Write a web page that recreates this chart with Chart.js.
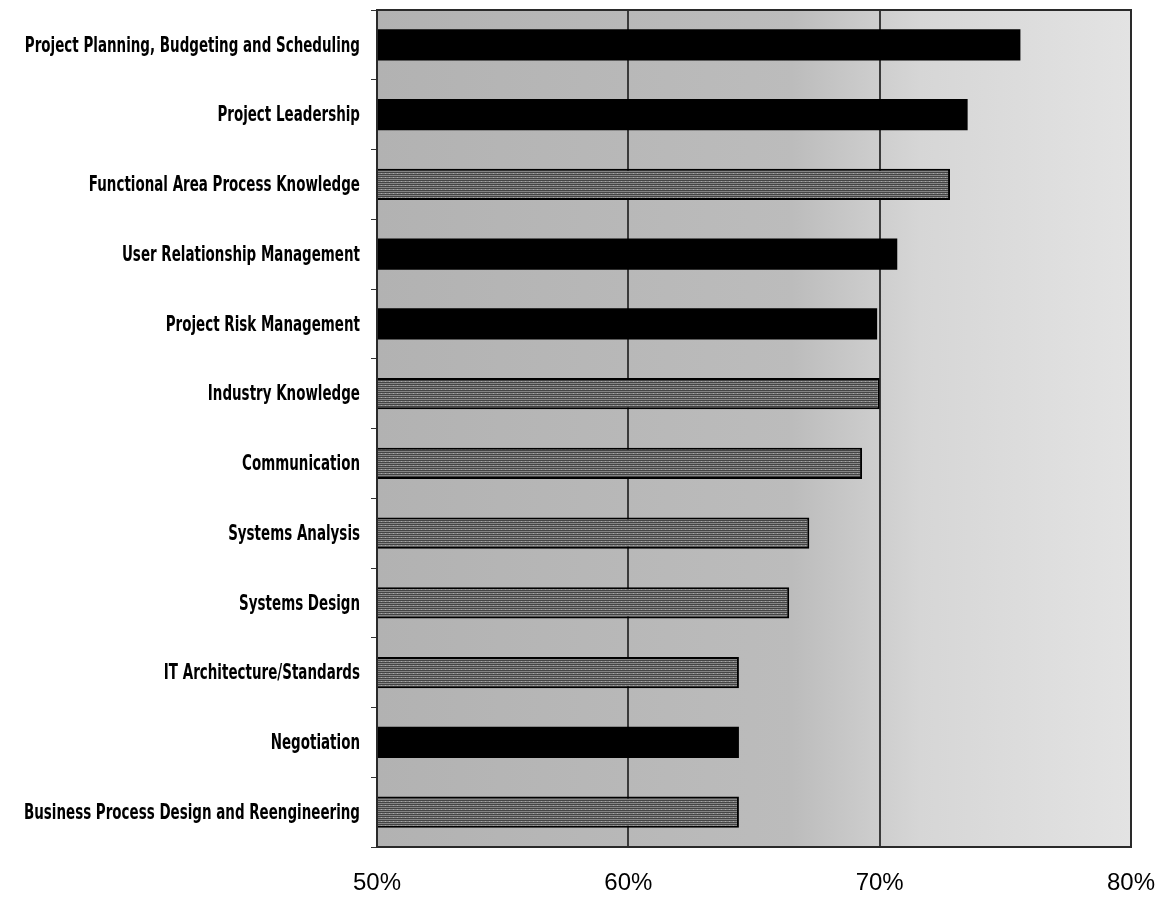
<!DOCTYPE html>
<html>
<head>
<meta charset="utf-8">
<script src="https://cdn.jsdelivr.net/npm/chart.js@4/dist/chart.umd.min.js"></script>
<style>
  html, body { margin: 0; padding: 0; background: #ffffff; }
  #wrap { width: 1165px; height: 898px; }
</style>
</head>
<body>
<div id="wrap"><canvas id="c" width="1165" height="898"></canvas></div>
<script>
// Skill areas, top to bottom
const skills = [
  'Project Planning, Budgeting and Scheduling',
  'Project Leadership',
  'Functional Area Process Knowledge',
  'User Relationship Management',
  'Project Risk Management',
  'Industry Knowledge',
  'Communication',
  'Systems Analysis',
  'Systems Design',
  'IT Architecture/Standards',
  'Negotiation',
  'Business Process Design and Reengineering'
];

// Share of respondents (%) — project-management skills (solid bars)
const projectSkills = [75.6, 73.5, null, 70.7, 69.9, null, null, null, null, null, 64.4, null];

// Share of respondents (%) — business / technical skills (hatched bars)
const otherSkills = [null, null, 72.8, null, null, 70.0, 69.3, 67.2, 66.4, 64.4, null, 64.4];

// Value axis range and tick step
const axisMin = 50;
const axisMax = 80;
const axisStep = 10;

// horizontal-line texture for the hatched bars
function stripePattern() {
  const p = document.createElement('canvas');
  p.width = 4; p.height = 4;
  const g = p.getContext('2d');
  g.fillStyle = '#858585'; g.fillRect(0, 0, 4, 4);
  g.fillStyle = '#444444'; g.fillRect(0, 0, 4, 1); g.fillRect(0, 2, 4, 1);
  g.fillStyle = '#a8a8a8'; g.fillRect(1, 1, 1, 1);
  return g.createPattern(p, 'repeat');
}

const ctx = document.getElementById('c').getContext('2d');

// shaded plot background and closed frame
const plotFrame = {
  id: 'plotFrame',
  beforeDraw(chart) {
    const a = chart.chartArea, c = chart.ctx;
    const grad = c.createLinearGradient(a.left, 0, a.right, 0);
    grad.addColorStop(0, '#b2b2b2');
    grad.addColorStop(0.55, '#bcbcbc');
    grad.addColorStop(0.72, '#d6d6d6');
    grad.addColorStop(1, '#e3e3e3');
    c.save();
    c.fillStyle = grad;
    c.fillRect(a.left, a.top, a.right - a.left, a.bottom - a.top);
    c.restore();
  },
  afterDraw(chart) {
    const a = chart.chartArea, c = chart.ctx;
    c.save();
    c.strokeStyle = '#2a2a2a';
    c.lineWidth = 2;
    c.strokeRect(a.left, a.top, a.right - a.left, a.bottom - a.top);
    c.restore();
  }
};

// narrow, tall category labels placed at the category axis ticks
const narrowLabels = {
  id: 'narrowLabels',
  afterDraw(chart) {
    const y = chart.scales.y, c = chart.ctx;
    const right = chart.chartArea.left - 17;
    c.save();
    c.font = 'bold 22px "DejaVu Sans Condensed", "DejaVu Sans", sans-serif';
    c.fillStyle = '#000000';
    c.textAlign = 'right';
    c.textBaseline = 'middle';
    chart.data.labels.forEach((label, i) => {
      c.save();
      c.translate(right, y.getPixelForTick(i) + 1);
      c.scale(0.68, 1);
      c.fillText(label, 0, 0);
      c.restore();
    });
    c.restore();
  }
};

new Chart(ctx, {
  type: 'bar',
  data: {
    labels: skills,
    datasets: [
      {
        label: 'Project management',
        data: projectSkills,
        backgroundColor: '#000000',
        borderColor: '#000000',
        borderWidth: 0,
        grouped: false
      },
      {
        label: 'Business / technical',
        data: otherSkills,
        backgroundColor: stripePattern(),
        borderColor: '#000000',
        borderWidth: 2,
        borderSkipped: false,
        grouped: false
      }
    ]
  },
  options: {
    indexAxis: 'y',
    responsive: false,
    animation: false,
    devicePixelRatio: 1,
    categoryPercentage: 1,
    barPercentage: 0.45,
    layout: { padding: { top: 10, right: 34, bottom: 0, left: 0 } },
    plugins: {
      legend: { display: false },
      tooltip: { enabled: false }
    },
    scales: {
      x: {
        min: axisMin,
        max: axisMax,
        afterFit(scale) {
          scale.height = 51;
          scale.paddingLeft = 0;
          scale.paddingRight = 0;
        },
        ticks: {
          stepSize: axisStep,
          color: '#000000',
          padding: 22,
          font: { family: '"Liberation Sans", Arial, sans-serif', size: 24 },
          callback: v => v + '%'
        },
        grid: {
          color: '#3a3a3a',
          lineWidth: 2,
          drawTicks: false
        },
        border: { display: false }
      },
      y: {
        offset: true,
        afterFit(scale) {
          scale.width = 377;
          scale.paddingTop = 0;
          scale.paddingBottom = 0;
        },
        ticks: { display: false },
        grid: {
          offset: true,
          drawOnChartArea: false,
          color: '#333333',
          tickLength: 6
        },
        border: { display: false }
      }
    }
  },
  plugins: [plotFrame, narrowLabels]
});
</script>
</body>
</html>
